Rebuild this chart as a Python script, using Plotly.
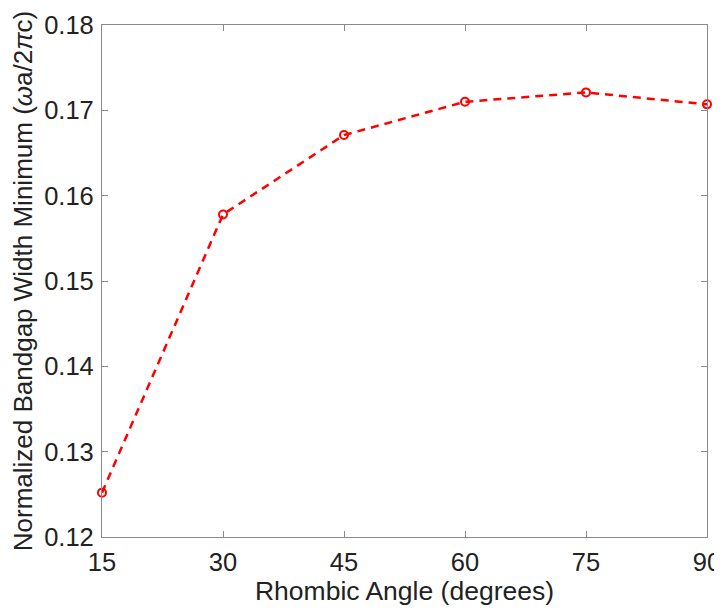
import plotly.graph_objects as go

angles = [15, 30, 45, 60, 75, 90]
bandgap_min = [0.1252, 0.1578, 0.1671, 0.1710, 0.1721, 0.1707]
x_ticks = [15, 30, 45, 60, 75, 90]
y_ticks = [0.12, 0.13, 0.14, 0.15, 0.16, 0.17, 0.18]

FONT = "Liberation Sans, Arial, Helvetica, sans-serif"
AXC = "#8a8a8a"

fig = go.Figure()
fig.add_trace(go.Scatter(
    x=angles, y=bandgap_min, mode="lines+markers",
    line=dict(color="#ff0000", width=2.5, dash="8px,6px"),
    marker=dict(symbol="circle-open", size=8, color="#ff0000", line=dict(width=2, color="#ff0000")),
    showlegend=False, cliponaxis=False,
))

axis_common = dict(
    showline=True, linecolor=AXC, linewidth=1.2, mirror="allticks",
    ticks="inside", ticklen=6, tickcolor=AXC, tickwidth=1,
    showgrid=False, zeroline=False, automargin=False,
    tickfont=dict(family=FONT, size=25.5, color="#222222"),
)

# page body has an 8px margin, so the figure is sized/offset to compensate
fig.update_layout(
    width=714, height=603,
    margin=dict(l=94, r=15, t=17, b=74),
    paper_bgcolor="white", plot_bgcolor="white",
    font=dict(family=FONT, color="#222222"),
    xaxis=dict(range=[15, 90], tickvals=x_ticks, ticktext=[str(v) for v in x_ticks],
               title=dict(text="Rhombic Angle (degrees)", font=dict(size=26.5, family=FONT, color="#222222"), standoff=4),
               ticklabelstandoff=2, **axis_common),
    yaxis=dict(range=[0.12, 0.18], tickvals=y_ticks, ticktext=[f"{v:.2f}" for v in y_ticks],
               title=dict(text="Normalized Bandgap Width Minimum (<i>ω</i>a/2<i>π</i>c)", font=dict(size=26, family=FONT, color="#222222"), standoff=5),
               ticklabelstandoff=2, **axis_common),
)

fig.write_html("out.html")
